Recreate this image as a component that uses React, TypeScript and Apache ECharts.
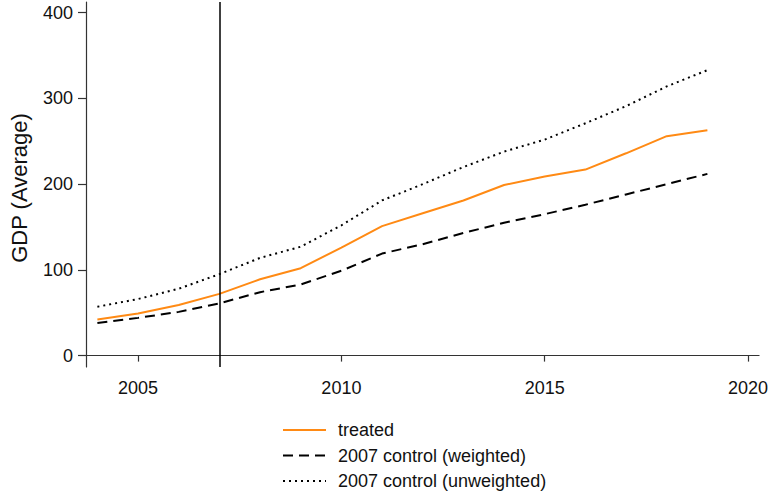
import React, { useEffect, useRef } from "react";
import * as echarts from "echarts";

const years = [2004, 2005, 2006, 2007, 2008, 2009, 2010, 2011, 2012, 2013, 2014, 2015, 2016, 2017, 2018, 2019];
const treated = [42, 49, 59, 72, 89, 102, 126, 151, 166, 181, 199, 209, 217, 236, 256, 263];
const weighted = [38, 44, 51, 61, 74, 83, 99, 119, 130, 143, 155, 165, 176, 188, 200, 212];
const unweighted = [57, 66, 78, 95, 114, 127, 152, 181, 200, 220, 238, 252, 271, 291, 314, 333];
const xTicks = [2005, 2010, 2015, 2020];
const yTicks = [0, 100, 200, 300, 400];
const treatmentYear = 2007;
const seriesNames = ["treated", "2007 control (weighted)", "2007 control (unweighted)"];

const FONT = "'Liberation Sans', Arial, Helvetica, sans-serif";

export default function App() {
  const ref = useRef<HTMLDivElement>(null);
  useEffect(() => {
    if (!ref.current) return;
    const chart = echarts.init(ref.current, null, { renderer: "svg" });
    const pair = (vals: number[]) => years.map((y, i) => [y, vals[i]]);
    chart.setOption({
      animation: false,
      backgroundColor: "#ffffff",
      textStyle: { fontFamily: FONT },
      grid: { left: 81, right: 8, top: 2, bottom: 127, containLabel: false },
      xAxis: {
        type: "value",
        min: 2003.72,
        max: 2020.27,
        splitLine: { show: false },
        axisLine: { show: true, lineStyle: { color: "#333", width: 1.2 } },
        axisTick: { show: true, customValues: xTicks, length: 6, lineStyle: { color: "#333", width: 1.2 } },
        axisLabel: {
          customValues: xTicks,
          formatter: (v: number) => String(v),
          margin: 12,
          fontSize: 18,
          color: "#111",
          fontFamily: FONT,
          showMaxLabel: true,
        },
      },
      yAxis: {
        type: "value",
        min: -13.3,
        max: 412.5,
        name: "GDP (Average)",
        nameLocation: "middle",
        nameGap: 56,
        nameTextStyle: { fontSize: 22, color: "#111", fontFamily: FONT, padding: [0, 7, 0, 0] },
        splitLine: { show: false },
        axisLine: { show: true, lineStyle: { color: "#333", width: 1.2 } },
        axisTick: { show: true, customValues: yTicks, length: 8, lineStyle: { color: "#333", width: 1.2 } },
        axisLabel: {
          customValues: yTicks,
          formatter: (v: number) => String(v),
          margin: 13,
          fontSize: 18,
          color: "#111",
          fontFamily: FONT,
        },
      },
      legend: {
        orient: "vertical",
        left: 282,
        top: 421,
        padding: 0,
        itemWidth: 43,
        itemHeight: 14,
        itemGap: 7.5,
        data: seriesNames,
        itemStyle: { opacity: 0 },
        textStyle: { fontSize: 18, color: "#111", fontFamily: FONT, lineHeight: 18, padding: [0, 0, 0, 7] },
      },
      series: [
        {
          name: seriesNames[0],
          type: "line",
          data: pair(treated),
          symbol: "none",
          lineStyle: { color: "#ff8a14", width: 2 },
          itemStyle: { color: "#ff8a14" },
          z: 3,
          markLine: {
            silent: true,
            symbol: ["none", "none"],
            label: { show: false },
            lineStyle: { color: "#000", width: 1.5, type: "solid" },
            data: [{ xAxis: treatmentYear }],
          },
        },
        {
          name: seriesNames[1],
          type: "line",
          data: pair(weighted),
          symbol: "none",
          lineStyle: { color: "#000", width: 2, type: [10, 6] },
          itemStyle: { color: "#000" },
        },
        {
          name: seriesNames[2],
          type: "line",
          data: pair(unweighted),
          symbol: "none",
          lineStyle: { color: "#000", width: 2, type: [2, 4] },
          itemStyle: { color: "#000" },
        },
      ],
    });
    return () => chart.dispose();
  }, []);
  return <div ref={ref} style={{ position: "absolute", left: 0, top: 0, width: 771, height: 494 }} />;
}
